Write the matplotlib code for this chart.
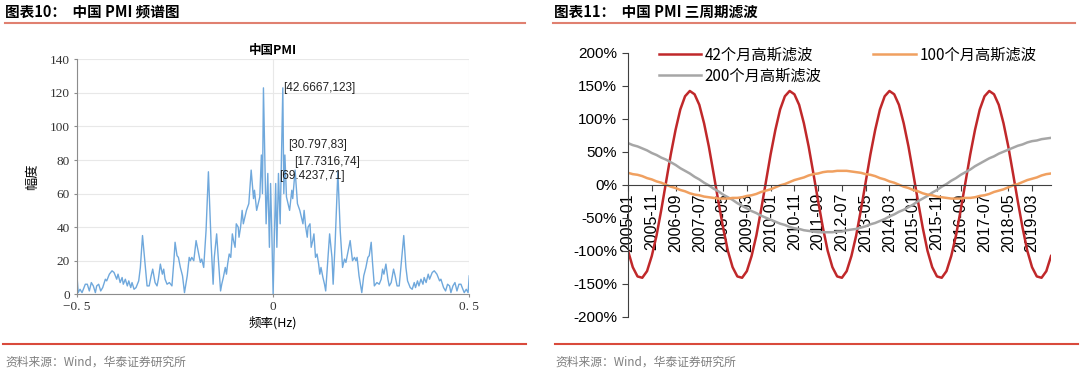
import numpy as np
import matplotlib
matplotlib.use('Agg')
import matplotlib.pyplot as plt
from matplotlib.lines import Line2D

plt.rcParams['font.family'] = ['Noto Sans CJK SC', 'DejaVu Sans']

# ---- 图表10 频谱 (右半边读数, 左半边对称) ----
freq_half = [0.000, 0.0035, 0.0065, 0.0095, 0.0136, 0.0179, 0.0247, 0.0272, 0.0300, 0.0340,
             0.0370, 0.0420, 0.0476, 0.0500, 0.0560, 0.0620, 0.0680, 0.0720, 0.0760, 0.0790,
             0.0830, 0.0870, 0.0890, 0.0940, 0.0970, 0.1010, 0.1040, 0.1080, 0.1120, 0.1160,
             0.1190, 0.1220, 0.1270, 0.1310, 0.1340, 0.1400, 0.1440, 0.1500, 0.1530, 0.1580,
             0.1650, 0.1710, 0.1770, 0.1820, 0.1855, 0.1905, 0.1964, 0.2023, 0.2074, 0.2110,
             0.2140, 0.2190, 0.2260, 0.2310, 0.2365, 0.2415, 0.2450, 0.2500, 0.2530, 0.2580,
             0.2645, 0.2704, 0.2755, 0.2790, 0.2824, 0.2875, 0.2926, 0.2960, 0.3010, 0.3070,
             0.3110, 0.3160, 0.3214, 0.3280, 0.3330, 0.3385, 0.3427, 0.3495, 0.3546, 0.3597,
             0.3630, 0.3680, 0.3717, 0.3768, 0.3820, 0.3850, 0.3900, 0.3954, 0.3988, 0.4056,
             0.4107, 0.4175, 0.4243, 0.4277, 0.4345, 0.4396, 0.4447, 0.4498, 0.4532, 0.4584,
             0.4635, 0.4686, 0.4737, 0.4788, 0.4820, 0.4872, 0.4923, 0.4970, 0.5000]
amp_half = [0, 38, 66, 28, 72, 42, 123, 60, 83, 58,
            55, 50, 62, 57, 74, 54, 50, 46, 42, 50,
            40, 34, 40, 42, 28, 32, 36, 22, 24, 18,
            12, 16, 10, 6, 2, 22, 36, 22, 6, 30,
            73, 38, 16, 21, 19, 25, 32, 20, 22, 20,
            22, 11, 1, 11, 16, 22, 23, 31, 20, 5,
            7, 6, 9, 15, 12, 18, 9, 5, 7, 15,
            11, 5, 5, 22, 35, 16, 8, 4, 3, 7,
            4, 8, 5, 9, 6, 10, 7, 12, 9, 13,
            14, 12, 8, 9, 4, 2, 6, 5, 1, 5,
            7, 2, 6, 6, 4, 1, 3, 1, 11]
tips = [('[42.6667,123]', 0.025, 123), ('[30.797,83]', 0.038, 89),
        ('[17.7316,74]', 0.054, 79), ('[69.4237,71]', 0.016, 70.5)]

# ---- 图表11 三周期滤波 (每两个月读一个点, 单位 %) ----
red_42 = [-100, -125, -139, -141, -131, -108, -77, -38, 4, 46, 83, 114, 134, 142, 137, 121, 93, 58, 17, -25, -65,
          -100, -125, -139, -141, -131, -108, -77, -38, 4, 46, 83, 114, 134, 142, 137, 121, 93, 58, 17, -25, -65,
          -100, -125, -139, -141, -131, -108, -77, -38, 4, 46, 83, 114, 134, 142, 137, 121, 93, 58, 17, -25, -65,
          -100, -125, -139, -141, -131, -108, -77, -38, 4, 46, 83, 114, 134, 142, 137, 121, 93, 58, 17, -25, -65,
          -100, -125, -139, -141, -131, -108]
orange_100 = [18, 16, 15, 13, 10, 8, 5, 3, 0, -3, -5, -8, -10, -13, -15, -16, -18, -19, -20, -21,
              -21, -21, -20, -20, -19, -17, -16, -14, -11, -9, -7, -4, -1, 1, 4, 7, 9, 11, 14, 16,
              17, 19, 20, 20, 21, 21, 21, 20, 19, 18, 16, 15, 13, 10, 8, 5, 3, 0, -3, -5,
              -8, -10, -13, -15, -16, -18, -19, -20, -21, -21, -21, -20, -20, -19, -17, -16, -14, -11, -9, -7,
              -4, -1, 1, 4, 7, 9, 11, 14, 16, 17]
gray_200 = [63, 60, 58, 55, 52, 48, 45, 41, 38, 34, 30, 25, 21, 17, 12, 8, 3, -1, -6, -10,
            -15, -19, -23, -28, -32, -36, -40, -43, -47, -50, -53, -56, -59, -61, -64, -66, -67, -69, -70, -71,
            -72, -72, -72, -72, -71, -71, -69, -68, -67, -65, -63, -60, -58, -55, -52, -48, -45, -41, -38, -34,
            -30, -25, -21, -17, -12, -8, -3, 1, 6, 10, 15, 19, 23, 28, 32, 36, 40, 43, 47, 50,
            53, 56, 59, 61, 64, 66, 67, 69, 70, 71]
date_labels = ['2005-01', '2005-11', '2006-09', '2007-07', '2008-05', '2009-03', '2010-01', '2010-11',
               '2011-09', '2012-07', '2013-05', '2014-03', '2015-01', '2015-11', '2016-09', '2017-07',
               '2018-05', '2019-03']

fig = plt.figure(figsize=(10.8, 3.74), dpi=100)

# ---------- 左图 ----------
fh = np.array(freq_half)
ah = np.array(amp_half)
freq = np.concatenate([-fh[::-1], fh[1:]])
amp = np.concatenate([ah[::-1], ah[1:]])

ax1 = fig.add_axes([0.0713, 0.2131, 0.3632, 0.6283])
ax1.plot(freq, amp, color='#6fa8dc', lw=1.0)
ax1.set_xlim(-0.5, 0.5)
ax1.set_ylim(0, 140)
ax1.set_yticks(range(0, 141, 20))
ax1.set_xticks([-0.5, 0, 0.5])
ax1.set_xticklabels(['\u22120. 5', '0', '0. 5'])
ax1.grid(True, color='#e8e8e8', lw=0.8)
ax1.set_axisbelow(True)
for s in ['top', 'right']:
    ax1.spines[s].set_visible(False)
for s in ['left', 'bottom']:
    ax1.spines[s].set_color('#8c8c8c')
ax1.tick_params(length=2, color='#8c8c8c', labelsize=9.5, labelcolor='#333333', pad=3)
for lab in ax1.get_xticklabels() + ax1.get_yticklabels():
    lab.set_family('Liberation Serif')
ax1.set_title('中国PMI', fontsize=9, fontweight='bold', pad=4)
ax1.set_xlabel('频率(Hz)', fontsize=9, labelpad=2)
ax1.set_ylabel('幅度', fontsize=9.5, labelpad=8)
for txt, fx, fy in tips:
    ax1.text(fx, fy, txt, fontsize=8.5, family='Liberation Sans', va='center', ha='left', color='#222222')

# ---------- 右图 ----------
months = np.arange(0, 2 * len(red_42), 2)
ax2 = fig.add_axes([0.5815, 0.1532, 0.3917, 0.7059])
ax2.plot(months, red_42, color='#c0282a', lw=1.8, label='42个月高斯滤波')
ax2.plot(months, gray_200, color='#a6a6a6', lw=1.8, label='200个月高斯滤波')
ax2.plot(months, orange_100, color='#f0a060', lw=1.8, label='100个月高斯滤波')
ax2.set_xlim(0, months[-1])
ax2.set_ylim(-200, 200)
ax2.set_yticks(range(-200, 201, 50))
ax2.set_yticklabels([f'{v}%' for v in range(-200, 201, 50)])
ax2.set_xticks(months[::5][:len(date_labels)])
ax2.set_xticklabels(date_labels)
ax2.spines['top'].set_visible(False)
ax2.spines['right'].set_visible(False)
ax2.spines['bottom'].set_position(('data', 0))
ax2.spines['left'].set_color('#404040')
ax2.spines['bottom'].set_color('#404040')
ax2.tick_params(axis='y', length=4, color='#404040', labelsize=11, pad=4)
ax2.tick_params(axis='x', length=4, color='#404040', labelsize=11.5, pad=2, labelrotation=90)
for lab in ax2.get_xticklabels() + ax2.get_yticklabels():
    lab.set_family('Liberation Sans')
ax2.legend(ncol=2, loc='upper left', bbox_to_anchor=(0.04, 1.075), frameon=False,
           fontsize=11, handlelength=2.8, handletextpad=0.2, columnspacing=3.4, labelspacing=0.25)

# ---------- 标题/来源 ----------
fig.text(0.005, 0.968, '图表10：  中国 PMI 频谱图', fontsize=10.5, fontweight='bold', va='center')
fig.text(0.513, 0.968, '图表11：  中国 PMI 三周期滤波', fontsize=10.5, fontweight='bold', va='center')
fig.add_artist(Line2D([0.005, 0.486], [0.9385, 0.9385], color='#e08070', lw=1.5))
fig.add_artist(Line2D([0.512, 0.995], [0.9385, 0.9385], color='#e08070', lw=1.5))
fig.add_artist(Line2D([0.003, 0.487], [0.080, 0.080], color='#d94a3c', lw=1.5))
fig.add_artist(Line2D([0.514, 0.998], [0.080, 0.080], color='#d94a3c', lw=1.5))
fig.text(0.005, 0.032, '资料来源：Wind，华泰证券研究所', fontsize=8.5, color='#7f7f7f', va='center')
fig.text(0.514, 0.032, '资料来源：Wind，华泰证券研究所', fontsize=8.5, color='#7f7f7f', va='center')

fig.savefig('out.png', dpi=100)
